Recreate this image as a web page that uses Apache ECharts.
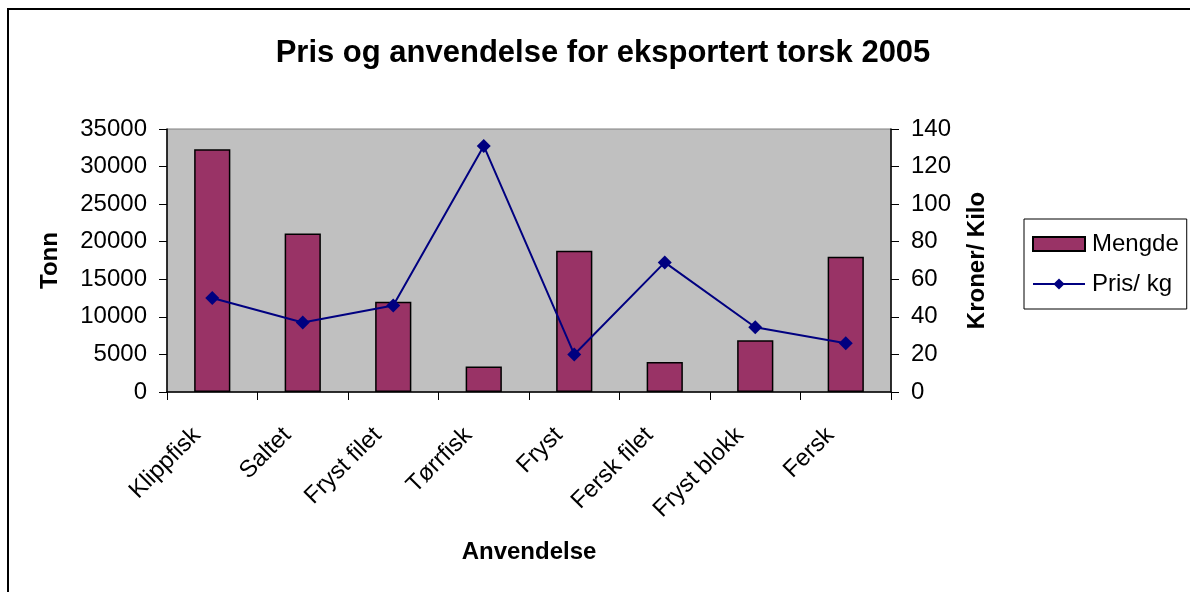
<!DOCTYPE html>
<html>
<head>
<meta charset="utf-8">
<script src="https://cdn.jsdelivr.net/npm/echarts@6/dist/echarts.min.js"></script>
<style>
  html, body { margin: 0; padding: 0; background: #fff; }
  #chart { width: 1190px; height: 592px; }
</style>
</head>
<body>
<div id="chart"></div>
<script>
var categories = ['Klippfisk', 'Saltet', 'Fryst filet', 'Tørrfisk', 'Fryst', 'Fersk filet', 'Fryst blokk', 'Fersk'];
var mengde = [32300, 21100, 12000, 3400, 18800, 4000, 6900, 18000];
var prisKg = [50, 37, 46, 131, 20, 69, 34.5, 26];

var font = '"Liberation Sans", Arial, sans-serif';

var chart = echarts.init(document.getElementById('chart'));
var option = {
  backgroundColor: '#fff',
  animation: false,
  title: {
    text: 'Pris og anvendelse for eksportert torsk 2005',
    left: 598,
    textAlign: 'center',
    top: 33,
    textStyle: { fontFamily: font, fontSize: 31, fontWeight: 'bold', color: '#000' }
  },
  graphic: [{
    type: 'rect',
    shape: { x: 8, y: 9, width: 1200, height: 600 },
    style: { fill: 'none', stroke: '#000', lineWidth: 2 },
    silent: true
  }],
  legend: {
    orient: 'vertical',
    left: 1024,
    top: 219,
    padding: [13, 8, 13, 8],
    itemGap: 16,
    itemWidth: 52,
    itemHeight: 14,
    borderColor: '#000',
    borderWidth: 1,
    textStyle: { fontFamily: font, fontSize: 24, color: '#000', padding: [0, 0, 0, 2] },
    data: [
      { name: 'Mengde', icon: 'rect' },
      { name: 'Pris/ kg' }
    ]
  },
  grid: {
    left: 167,
    right: 299,
    top: 129,
    bottom: 200,
    show: true,
    backgroundColor: '#C0C0C0',
    borderColor: '#808080',
    borderWidth: 1
  },
  xAxis: {
    type: 'category',
    data: categories,
    name: 'Anvendelse',
    nameLocation: 'middle',
    nameGap: 148,
    nameTextStyle: { fontFamily: font, fontSize: 24, fontWeight: 'bold', color: '#000' },
    axisLine: { lineStyle: { color: '#000', width: 1.5 } },
    axisTick: { show: true, length: 8, lineStyle: { color: '#000' } },
    axisLabel: { rotate: 45, margin: 24, padding: [0, 22, 0, 0], fontFamily: font, fontSize: 24, color: '#000', interval: 0 }
  },
  yAxis: [{
    type: 'value',
    min: 0,
    max: 35000,
    interval: 5000,
    name: 'Tonn',
    nameLocation: 'middle',
    nameRotate: 90,
    nameGap: 105,
    nameTextStyle: { fontFamily: font, fontSize: 24, fontWeight: 'bold', color: '#000' },
    axisLine: { show: true, lineStyle: { color: '#000', width: 1.5 } },
    axisTick: { show: true, length: 8, lineStyle: { color: '#000' } },
    axisLabel: { margin: 20, fontFamily: font, fontSize: 24, color: '#000', formatter: function (v) { return String(v); } },
    splitLine: { show: false }
  }, {
    type: 'value',
    min: 0,
    max: 140,
    interval: 20,
    name: 'Kroner/ Kilo',
    nameLocation: 'middle',
    nameRotate: 90,
    nameGap: 74,
    nameTextStyle: { fontFamily: font, fontSize: 24, fontWeight: 'bold', color: '#000' },
    axisLine: { show: true, lineStyle: { color: '#000', width: 1.5 } },
    axisTick: { show: true, length: 8, lineStyle: { color: '#000' } },
    axisLabel: { margin: 20, fontFamily: font, fontSize: 24, color: '#000' },
    splitLine: { show: false }
  }],
  series: [{
    name: 'Mengde',
    type: 'bar',
    yAxisIndex: 0,
    barWidth: '40%',
    data: mengde,
    itemStyle: { color: '#993366', borderColor: '#000', borderWidth: 1.5 }
  }, {
    name: 'Pris/ kg',
    type: 'line',
    yAxisIndex: 1,
    data: prisKg,
    symbol: 'diamond',
    symbolSize: 14,
    lineStyle: { color: '#000080', width: 2 },
    itemStyle: { color: '#000080' }
  }]
};
chart.setOption(option);
</script>
</body>
</html>
